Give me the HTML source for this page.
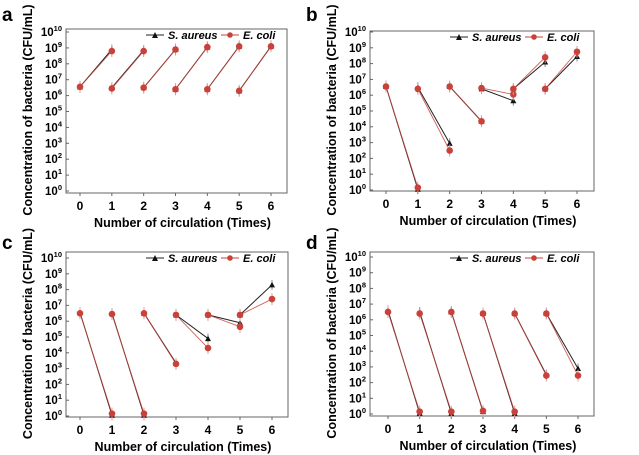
<!DOCTYPE html>
<html><head><meta charset="utf-8"><style>
html,body{margin:0;padding:0;background:#fff;}
svg{display:block;font-family:"Liberation Sans",Arial,sans-serif;}
</style></head><body>
<svg id="s" width="639" height="455" viewBox="0 0 639 455" xmlns="http://www.w3.org/2000/svg"></svg>
<script>
const P=[
{L:66,R:287,T:29,B:193,x0:80,x6:271,y10:32,y0:191,lab:'a',lx:2,ly:21,
S:[[0,6.55,1,8.9],[1,6.5,2,8.85],[2,6.5,3,8.9],[3,6.4,4,9.05],[4,6.4,5,9.1],[5,6.3,6,9.1]],
E:[[0,6.55,1,8.8],[1,6.45,2,8.8],[2,6.5,3,8.9],[3,6.4,4,9.05],[4,6.4,5,9.1],[5,6.3,6,9.1]]},
{L:370,R:594,T:31,B:191,x0:386,x6:577,y10:32,y0:190,lab:'b',lx:306,ly:21,
S:[[0,6.55,1,0.05],[1,6.5,2,2.95],[2,6.55,3,4.35],[3,6.4,4,5.65],[4,6.4,5,8.1],[5,6.4,6,8.45]],
E:[[0,6.55,1,0.15],[1,6.4,2,2.5],[2,6.55,3,4.35],[3,6.45,4,6.05],[4,6.4,5,8.4],[5,6.4,6,8.75]]},
{L:66,R:288,T:252,B:417,x0:80,x6:272,y10:258,y0:416,lab:'c',lx:2,ly:249,
S:[[0,6.55,1,0.05],[1,6.5,2,0.05],[2,6.5,3,3.35],[3,6.4,4,4.9],[4,6.4,5,5.9],[5,6.4,6,8.3]],
E:[[0,6.5,1,0.15],[1,6.45,2,0.15],[2,6.5,3,3.3],[3,6.4,4,4.3],[4,6.4,5,5.65],[5,6.4,6,7.4]]},
{L:370,R:594,T:252,B:416,x0:388,x6:578,y10:257,y0:414,lab:'d',lx:306,ly:249,
S:[[0,6.6,1,0.05],[1,6.5,2,0.05],[2,6.5,3,0.15],[3,6.4,4,0.05],[4,6.4,5,2.5],[5,6.4,6,2.9]],
E:[[0,6.5,1,0.15],[1,6.4,2,0.15],[2,6.5,3,0.2],[3,6.4,4,0.15],[4,6.4,5,2.45],[5,6.4,6,2.45]]}
];
let h='';
const red='#c8423a';
for(const p of P){
 const X=i=>p.x0+(p.x6-p.x0)*i/6, Y=v=>p.y0-(p.y0-p.y10)*v/10;
 h+=`<rect x="${p.L}" y="${p.T}" width="${p.R-p.L}" height="${p.B-p.T}" fill="none" stroke="#666" stroke-width="1"/>`;
 h+=`<text x="${p.lx}" y="${p.ly}" font-size="19" font-weight="bold">${p.lab}</text>`;
 for(let k=0;k<=10;k++){const y=Y(k);
  h+=`<line x1="${p.L}" x2="${p.L+3}" y1="${y}" y2="${y}" stroke="#666"/>`;
  h+=`<text x="${p.L-4}" y="${y+4}" font-size="11.5" font-weight="bold" text-anchor="end">10<tspan dy="-5" font-size="7.5">${k}</tspan></text>`;}
 for(let i=0;i<=6;i++){const x=X(i);
  h+=`<line x1="${x}" x2="${x}" y1="${p.B}" y2="${p.B+3}" stroke="#666"/>`;
  h+=`<text x="${x}" y="${p.B+17}" font-size="12" font-weight="bold" text-anchor="middle">${i}</text>`;}
 const cx=(p.L+p.R)/2+6;
 h+=`<text x="${cx}" y="${p.B+34}" font-size="12.5" font-weight="bold" text-anchor="middle">Number of circulation (Times)</text>`;
 const cy=(p.T+p.B)/2-1;
 h+=`<text transform="translate(${p.L-34},${cy}) rotate(-90)" font-size="12.5" font-weight="bold" text-anchor="middle">Concentration of bacteria (CFU/mL)</text>`;
 const ly=p.T+6, lx=p.L+80;
 h+=`<line x1="${lx}" x2="${lx+18}" y1="${ly}" y2="${ly}" stroke="#222"/><path d="M${lx+6},${ly+3}L${lx+9},${ly-3}L${lx+12},${ly+3}Z" fill="#111"/>`;
 h+=`<text x="${lx+22}" y="${ly+4}" font-size="11" font-weight="bold" font-style="italic">S. aureus</text>`;
 h+=`<line x1="${lx+75}" x2="${lx+93}" y1="${ly}" y2="${ly}" stroke="${red}"/><circle cx="${lx+84}" cy="${ly}" r="2.8" fill="${red}"/>`;
 h+=`<text x="${lx+97}" y="${ly+4}" font-size="11" font-weight="bold" font-style="italic">E. coli</text>`;
 for(const s of p.S){const a=[X(s[0]),Y(s[1]),X(s[2]),Y(s[3])];
  h+=`<line x1="${a[0]}" y1="${a[1]}" x2="${a[2]}" y2="${a[3]}" stroke="#222" stroke-width="1"/>`;
  for(const q of [[a[0],a[1]],[a[2],a[3]]]){h+=`<line x1="${q[0]}" x2="${q[0]}" y1="${q[1]-5}" y2="${q[1]+5}" stroke="#888"/><path d="M${q[0]-3},${q[1]+2.5}L${q[0]},${q[1]-3}L${q[0]+3},${q[1]+2.5}Z" fill="#111"/>`;}}
 for(const s of p.E){const a=[X(s[0]),Y(s[1]),X(s[2]),Y(s[3])];
  h+=`<line x1="${a[0]}" y1="${a[1]}" x2="${a[2]}" y2="${a[3]}" stroke="${red}" stroke-width="0.9" opacity="0.85"/>`;
  for(const q of [[a[0],a[1]],[a[2],a[3]]]){h+=`<line x1="${q[0]}" x2="${q[0]}" y1="${q[1]-6}" y2="${q[1]+6}" stroke="#d99"/><circle cx="${q[0]}" cy="${q[1]}" r="3.3" fill="${red}"/>`;}}
}
document.getElementById('s').innerHTML=h;
</script>
</body></html>
